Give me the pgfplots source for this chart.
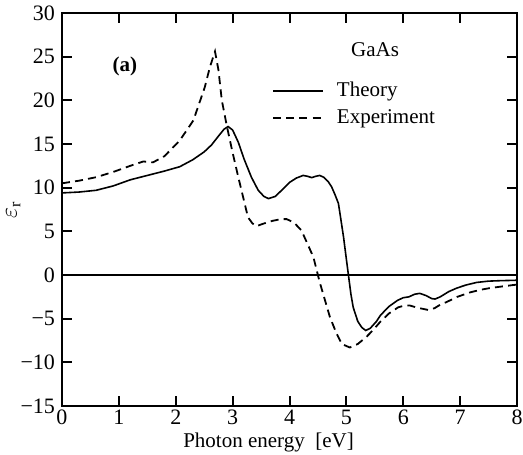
\documentclass[border=0pt]{standalone}
\usepackage{pgfplots}
\pgfplotsset{compat=1.18}
\usepackage{fontspec}
\setmainfont{Liberation Serif}
\begin{document}
\begin{tikzpicture}
\begin{axis}[
  scale only axis,
  width=227.5pt, height=196.5pt,
  xmin=0, xmax=8, ymin=-15, ymax=30,
  xtick={0,1,...,8}, ytick={-15,-10,...,30},
  yticklabels={−15,−10,−5,0,5,10,15,20,25,30},
  tick align=inside,
  xtick pos=both, ytick pos=both,
  xticklabel pos=lower, yticklabel pos=left,
  major tick length=5pt,
  every tick/.style={line width=1pt, black},
  axis line style={line width=1pt},
  /pgf/number format/assume math mode=true,
  tick label style={font=\fontsize{11}{12}\selectfont},
  xticklabel style={yshift=1.5pt},
  label style={font=\fontsize{10.5}{12}\selectfont},
  xlabel={Photon energy\ \ [eV]},
  ylabel={$\varepsilon_{\mathrm{r}}$},
  xlabel style={at={(ticklabel cs:0.454)}, anchor=north, yshift=3pt},
  ylabel style={at={(axis description cs:-0.107,0.5)}, anchor=center, font=\fontsize{12}{12}\selectfont},
  legend style={at={(0.461,0.835)}, anchor=north west, draw=none, fill=none,
    font=\fontsize{10.5}{12}\selectfont, row sep=1pt, inner sep=0pt},
  legend cell align=left,
  legend image code/.code={\draw[#1] (0pt,0pt) -- (25pt,0pt); \path (29.5pt,0pt);},
]
\coordinate (ll) at (rel axis cs:0,0);
\coordinate (ur) at (rel axis cs:1,1);
\addplot[black, line width=0.8pt, forget plot] coordinates {(0,0) (8,0)};
\addplot[black, line width=0.8pt] coordinates {
(0,9.4) (0.3,9.5) (0.6,9.7) (0.9,10.2) (1.2,10.9) (1.5,11.4) (1.8,11.9)
(2.07,12.4) (2.3,13.2) (2.5,14.1) (2.63,14.9) (2.75,15.9) (2.85,16.7)
(2.92,17.0) (3.0,16.6) (3.1,15.2) (3.2,13.3) (3.33,11.2) (3.45,9.7)
(3.55,9.0) (3.63,8.75) (3.75,9.0) (3.83,9.5) (4.0,10.6) (4.12,11.1)
(4.24,11.4) (4.32,11.3) (4.39,11.15) (4.46,11.3) (4.53,11.4) (4.6,11.2)
(4.68,10.7) (4.74,10.1) (4.8,9.2) (4.86,8.2) (4.9,6.5) (4.95,4.35)
(5.0,1.8) (5.04,-0.2) (5.08,-2.2) (5.12,-3.7) (5.2,-5.3) (5.27,-6.0)
(5.34,-6.35) (5.42,-6.1) (5.53,-5.3) (5.6,-4.6) (5.75,-3.6) (5.9,-2.9)
(6.0,-2.6) (6.1,-2.5) (6.2,-2.2) (6.29,-2.1) (6.4,-2.35) (6.5,-2.7)
(6.56,-2.75) (6.65,-2.5) (6.8,-1.9) (6.94,-1.5) (7.1,-1.15) (7.29,-0.85)
(7.5,-0.7) (7.7,-0.65) (8.0,-0.6)};
\addlegendentry{Theory}
\addplot[black, line width=0.9pt, dash pattern=on 4pt off 2.6pt] coordinates {
(0,10.5) (0.3,10.8) (0.6,11.2) (0.9,11.8) (1.2,12.5) (1.43,13.0) (1.6,12.9)
(1.8,13.6) (2.07,15.4) (2.31,17.7) (2.51,21.5) (2.6,23.8) (2.69,25.6)
(2.75,23.5) (2.81,20.0) (2.9,17.0) (3.0,14.0) (3.1,11.2) (3.2,8.5)
(3.27,6.6) (3.35,5.9) (3.42,5.6) (3.55,5.9) (3.7,6.2) (3.85,6.4)
(3.95,6.4) (4.08,6.0) (4.21,5.1) (4.3,3.8) (4.42,2.05) (4.53,-0.8)
(4.62,-2.8) (4.71,-4.8) (4.82,-6.6) (4.92,-7.9) (5.06,-8.3) (5.2,-7.9)
(5.35,-7.1) (5.47,-6.3) (5.59,-5.4) (5.75,-4.4) (5.91,-3.7) (6.02,-3.5)
(6.12,-3.5) (6.25,-3.75) (6.44,-4.0) (6.55,-3.8) (6.65,-3.4) (6.76,-3.1)
(6.95,-2.5) (7.17,-2.0) (7.35,-1.7) (7.52,-1.5) (7.75,-1.3) (7.93,-1.15)
(8.0,-1.1)};
\addlegendentry{Experiment}
\node[font=\fontsize{10.5}{12}\selectfont\bfseries] at (rel axis cs:0.138,0.865) {(a)};
\node[font=\fontsize{10.5}{12}\selectfont] at (rel axis cs:0.688,0.906) {GaAs};
\end{axis}
\pgfresetboundingbox
\path ([shift={(-31pt,-24pt)}]ll) rectangle ([shift={(3pt,6.5pt)}]ur);
\end{tikzpicture}
\end{document}
